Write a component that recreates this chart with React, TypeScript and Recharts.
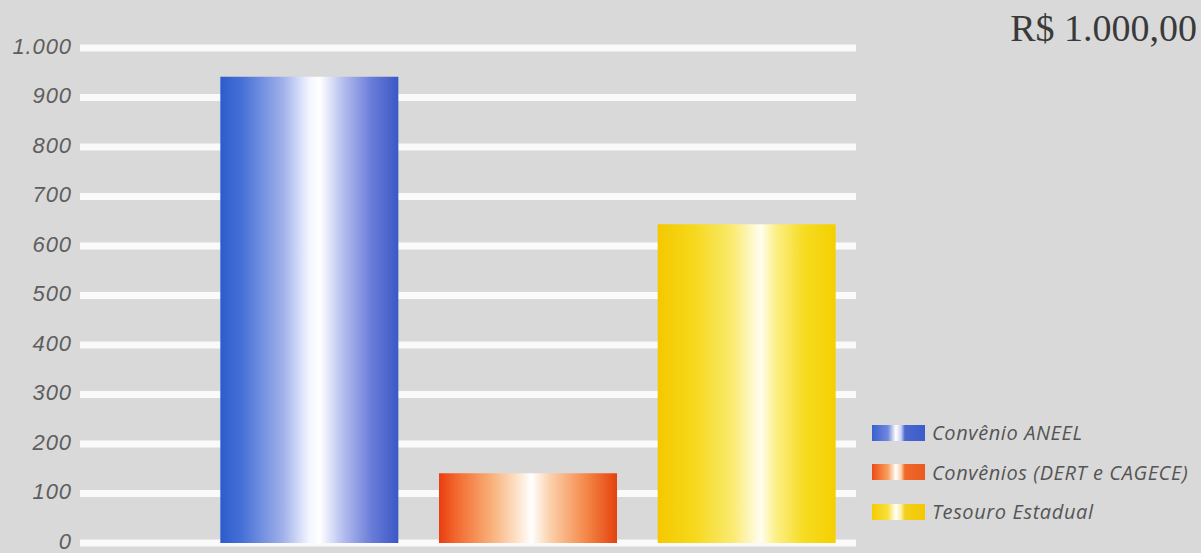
import React from 'react';
import { BarChart, Bar, XAxis, YAxis, CartesianGrid, Cell, Legend } from 'recharts';

const categories = ['Convênio ANEEL', 'Convênios (DERT e CAGECE)', 'Tesouro Estadual'];
const values = [942, 141, 644];
const yTicks = [0, 100, 200, 300, 400, 500, 600, 700, 800, 900, 1000];
const title = 'R$ 1.000,00';

const data = categories.map((name, i) => ({ name, value: values[i] }));

type Stop = [number, string];
const gradients: Stop[][] = [
  [
    [0, '#2c5ccc'],
    [0.12, '#4670d6'],
    [0.35, '#9fb0ea'],
    [0.5, '#f4f6ff'],
    [0.56, '#ffffff'],
    [0.68, '#b9c2f0'],
    [0.85, '#6a7cd8'],
    [1, '#3a58c6'],
  ],
  [
    [0, '#ea3c10'],
    [0.1, '#f26a30'],
    [0.3, '#f8b27a'],
    [0.45, '#fde6d0'],
    [0.52, '#ffffff'],
    [0.62, '#fbd2ae'],
    [0.82, '#f48a4a'],
    [1, '#e4420e'],
  ],
  [
    [0, '#f4c800'],
    [0.2, '#f6d81a'],
    [0.42, '#faea70'],
    [0.58, '#fffef0'],
    [0.66, '#fcf08a'],
    [0.82, '#f6dc22'],
    [1, '#f5cf00'],
  ],
];

const swatchGradients: Stop[][] = [
  [
    [0, '#3a5fd0'],
    [0.3, '#7088dc'],
    [0.45, '#ffffff'],
    [0.55, '#c8d0f2'],
    [0.62, '#4c68d0'],
    [1, '#3c5cc8'],
  ],
  [
    [0, '#ee4a14'],
    [0.3, '#f7a060'],
    [0.45, '#ffffff'],
    [0.55, '#fbd0a8'],
    [0.62, '#f06a2a'],
    [1, '#ea5a20'],
  ],
  [
    [0, '#f5cc00'],
    [0.3, '#f8e040'],
    [0.45, '#ffffff'],
    [0.55, '#fbf0a0'],
    [0.62, '#f2d020'],
    [1, '#f4c800'],
  ],
];

const fmt = (v: number) => v.toLocaleString('de-DE');

const YTick = (props: any) => {
  const { x, y, payload } = props;
  return (
    <text
      x={x}
      y={y - 2}
      textAnchor="end"
      dominantBaseline="central"
      fontFamily="'Liberation Sans', Arial, sans-serif"
      fontStyle="italic"
      fontSize={22}
      letterSpacing={0.9}
      fill="#5e5e5e"
    >
      {fmt(payload.value)}
    </text>
  );
};

const LegendContent = () => (
  <div>
    {categories.map((c, i) => (
      <div key={c} style={{ display: 'flex', alignItems: 'center', height: 39.5 }}>
        <svg width={53} height={16} style={{ marginRight: 7 }}>
          <defs>
            <linearGradient id={`sw-${i}`} x1="0" y1="0" x2="1" y2="0">
              {swatchGradients[i].map(([o, col], k) => (
                <stop key={k} offset={o} stopColor={col} />
              ))}
            </linearGradient>
          </defs>
          <rect x={0} y={0} width={53} height={16} fill={`url(#sw-${i})`} />
        </svg>
        <span
          style={{
            fontFamily: "'Open Sans', sans-serif",
            fontStyle: 'italic',
            fontSize: 20,
            letterSpacing: 0.6,
            color: '#555',
            whiteSpace: 'nowrap',
          }}
        >
          {c}
        </span>
      </div>
    ))}
  </div>
);

export default function App() {
  return (
    <div
      style={{
        position: 'fixed',
        left: 0,
        top: 0,
        width: 1201,
        height: 553,
        background: '#d9d9d9',
        overflow: 'hidden',
      }}
    >
      <div
        style={{
          position: 'absolute',
          right: 4,
          top: 8,
          fontFamily: "'Liberation Serif', 'Times New Roman', serif",
          fontSize: 38,
          color: '#3a3a3a',
          lineHeight: '40px',
        }}
      >
        {title}
      </div>
      <BarChart
        width={1201}
        height={553}
        data={data}
        margin={{ top: 48, right: 345, bottom: 10, left: 0 }}
        barCategoryGap="9.3%"
      >
        <defs>
          {gradients.map((g, i) => (
            <linearGradient key={i} id={`bar-${i}`} x1="0" y1="0" x2="1" y2="0">
              {g.map(([o, col], k) => (
                <stop key={k} offset={o} stopColor={col} />
              ))}
            </linearGradient>
          ))}
        </defs>
        <CartesianGrid vertical={false} stroke="#ffffff" strokeWidth={7} strokeOpacity={0.85} />
        <XAxis dataKey="name" hide padding={{ left: 120, right: 0 }} />
        <YAxis
          width={80}
          domain={[0, 1000]}
          ticks={yTicks}
          axisLine={false}
          tickLine={false}
          tick={<YTick />}
          interval={0}
        />
        <Legend
          layout="vertical"
          align="center"
          verticalAlign="middle"
          content={<LegendContent />}
          wrapperStyle={{ position: 'absolute', left: 872, top: 413, width: 329 }}
        />
        <Bar dataKey="value" isAnimationActive={false}>
          {data.map((d, i) => (
            <Cell key={d.name} fill={`url(#bar-${i})`} />
          ))}
        </Bar>
      </BarChart>
    </div>
  );
}
